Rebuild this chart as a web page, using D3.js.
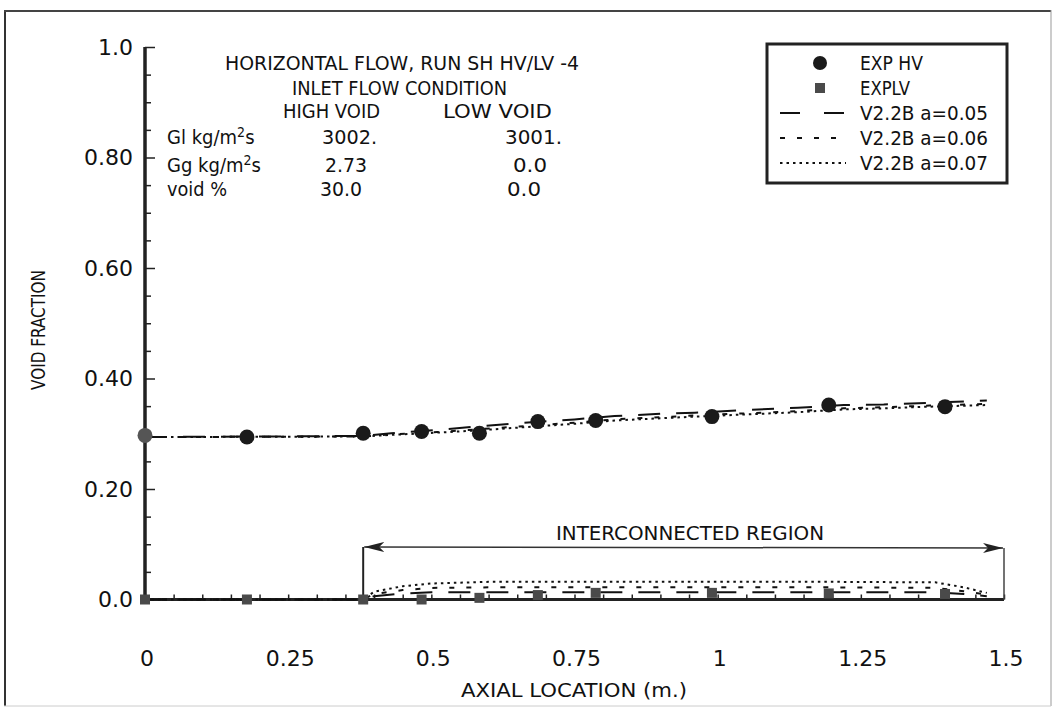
<!DOCTYPE html>
<html>
<head>
<meta charset="utf-8">
<script src="https://cdn.jsdelivr.net/npm/d3@7"></script>
<style>
  html, body { margin: 0; padding: 0; background: #fff; }
  svg { display: block; }
  .num { font-family: "DejaVu Sans", sans-serif; fill: #111; }
  .lbl { font-family: "DejaVu Sans Condensed", "DejaVu Sans", sans-serif; font-stretch: condensed; fill: #111; }
</style>
</head>
<body>
<svg id="chart" width="1055" height="719"></svg>
<script>
// Measured axial locations (m) and void fractions
const expX  = [0, 0.178, 0.381, 0.483, 0.584, 0.686, 0.787, 0.990, 1.194, 1.397];
const expHV = [0.297, 0.294, 0.301, 0.304, 0.301, 0.322, 0.324, 0.331, 0.352, 0.349];
const expLV = [0, 0, 0, 0, 0.003, 0.008, 0.012, 0.012, 0.011, 0.010];

// Code predictions (V2.2B) for the high-void channel
const hvX    = [0, 0.381, 0.43, 0.51, 0.58, 0.65, 0.75, 0.82, 0.90, 0.96, 1.05, 1.14, 1.22, 1.29, 1.37, 1.47];
const hvA005 = [0.294, 0.296, 0.301, 0.307, 0.313, 0.319, 0.326, 0.332, 0.336, 0.338, 0.343, 0.347, 0.352, 0.353, 0.356, 0.360];
const hvA006 = [0.294, 0.295, 0.299, 0.303, 0.308, 0.313, 0.320, 0.326, 0.330, 0.333, 0.337, 0.341, 0.346, 0.348, 0.351, 0.354];
const hvA007 = [0.294, 0.295, 0.298, 0.302, 0.306, 0.311, 0.318, 0.324, 0.328, 0.331, 0.335, 0.339, 0.344, 0.346, 0.349, 0.352];

// Code predictions (V2.2B) for the low-void channel
const lvX    = [0, 0.381, 0.40, 0.45, 0.50, 0.60, 0.80, 1.00, 1.20, 1.38, 1.43, 1.47];
const lvA005 = [0, 0, 0.006, 0.011, 0.013, 0.013, 0.013, 0.013, 0.013, 0.013, 0.010, 0.006];
const lvA006 = [0, 0, 0.010, 0.017, 0.021, 0.022, 0.022, 0.022, 0.022, 0.021, 0.015, 0.009];
const lvA007 = [0, 0, 0.014, 0.024, 0.029, 0.032, 0.032, 0.032, 0.032, 0.031, 0.022, 0.012];

// Axis ticks
const xTicks = [0, 0.25, 0.5, 0.75, 1, 1.25, 1.5];
const xTickLabels = ["0", "0.25", "0.5", "0.75", "1", "1.25", "1.5"];
const yTicks = [0, 0.2, 0.4, 0.6, 0.8, 1.0];
const yTickLabels = ["0.0", "0.20", "0.40", "0.60", "0.80", "1.0"];

// Interconnected region bounds (m)
const regionStart = 0.381, regionEnd = 1.5;

// Legend entries
const legendNames = ["EXP HV", "EXPLV", "V2.2B a=0.05", "V2.2B a=0.06", "V2.2B a=0.07"];

const svg = d3.select("#chart");
const x = d3.scaleLinear().domain([0, 1.5]).range([145, 1004]);
const y = d3.scaleLinear().domain([0, 1]).range([599.5, 47]);

// Page frame
svg.append("line").attr("x1", 5).attr("y1", 10).attr("x2", 5).attr("y2", 706).attr("stroke", "#333").attr("stroke-width", 2);
svg.append("line").attr("x1", 4).attr("y1", 11).attr("x2", 1051).attr("y2", 11).attr("stroke", "#444").attr("stroke-width", 2);
svg.append("line").attr("x1", 1051).attr("y1", 10).attr("x2", 1051).attr("y2", 706).attr("stroke", "#999").attr("stroke-width", 1);
svg.append("line").attr("x1", 4).attr("y1", 706).attr("x2", 1051).attr("y2", 706).attr("stroke", "#ccc").attr("stroke-width", 1);

// Y axis: minor ticks every 0.05 pointing into the plot
const yMinor = d3.range(0, 1.0001, 0.05);
const yAxis = svg.append("g").attr("transform", `translate(${x(0)},0)`)
  .call(d3.axisRight(y).tickValues(yMinor).tickSize(6).tickFormat(""));
yAxis.select(".domain").remove();
yAxis.selectAll(".tick line").attr("stroke", "#222").attr("stroke-width", 1.5)
  .attr("x2", d => (Math.abs(d * 5 - Math.round(d * 5)) < 1e-6 ? 10 : 6));
svg.append("line").attr("x1", x(0)).attr("x2", x(0)).attr("y1", y(1)).attr("y2", y(0))
  .attr("stroke", "#222").attr("stroke-width", 3.5);

svg.append("g").selectAll("text").data(yTicks).join("text")
  .attr("class", "num")
  .attr("x", 133).attr("y", d => y(d)).attr("dy", "0.36em")
  .attr("text-anchor", "end").attr("font-size", 22)
  .text((d, i) => yTickLabels[i]);

// X axis: minor ticks every 0.05 pointing into the plot
const xMinor = d3.range(0, 1.5001, 0.05);
const xAxis = svg.append("g").attr("transform", `translate(0,${y(0)})`)
  .call(d3.axisTop(x).tickValues(xMinor).tickSize(5).tickFormat(""));
xAxis.select(".domain").remove();
xAxis.selectAll(".tick line").attr("stroke", "#222").attr("stroke-width", 1.5);
svg.append("line").attr("x1", x(0)).attr("x2", x(1.5)).attr("y1", y(0)).attr("y2", y(0))
  .attr("stroke", "#222").attr("stroke-width", 3);

svg.append("g").selectAll("text").data(xTicks).join("text")
  .attr("class", "num")
  .attr("x", d => x(d) + 2).attr("y", 666)
  .attr("text-anchor", "middle").attr("font-size", 22)
  .text((d, i) => xTickLabels[i]);

// Axis titles
svg.append("text").attr("class", "lbl")
  .attr("transform", "translate(45,330) rotate(-90)")
  .attr("text-anchor", "middle").attr("font-size", 19)
  .attr("textLength", 120).attr("lengthAdjust", "spacingAndGlyphs")
  .text("VOID FRACTION");
svg.append("text").attr("class", "lbl")
  .attr("x", 574).attr("y", 697).attr("text-anchor", "middle").attr("font-size", 19)
  .attr("textLength", 226).attr("lengthAdjust", "spacingAndGlyphs")
  .text("AXIAL LOCATION (m.)");

// Inlet condition annotation
const note = svg.append("g").attr("class", "lbl");
function noteText(tx, ty, str, len, anchor) {
  return note.append("text").attr("x", tx).attr("y", ty).attr("font-size", 20)
    .attr("text-anchor", anchor || "start")
    .attr("textLength", len).attr("lengthAdjust", "spacingAndGlyphs").text(str);
}
noteText(225, 70, "HORIZONTAL FLOW, RUN SH HV/LV -4", 354);
noteText(292, 95, "INLET FLOW CONDITION", 215);
noteText(283, 118, "HIGH VOID", 97);
noteText(443, 118, "LOW VOID", 109);
function unitText(tx, ty, prefix) {
  const t = note.append("text").attr("x", tx).attr("y", ty).attr("font-size", 20);
  t.append("tspan").text(prefix + " kg/m");
  t.append("tspan").attr("dy", -7).attr("font-size", 14).text("2");
  t.append("tspan").attr("dy", 7).text("s");
}
unitText(167, 144, "Gl");
unitText(167, 172, "Gg");
noteText(167, 196, "void %", 60);
noteText(322, 144, "3002.", 55);
noteText(505, 144, "3001.", 57);
noteText(325, 172, "2.73", 42);
noteText(513, 172, "0.0", 34);
noteText(320, 196, "30.0", 42);
noteText(507, 196, "0.0", 34);

// Model curves
const styles = [
  { dash: "22,16", w: 2 },
  { dash: "5,12", w: 2 },
  { dash: "2.5,4", w: 2 }
];
function drawCurve(xs, vs, st) {
  const line = d3.line().x((d, i) => x(xs[i])).y(d => y(d));
  svg.append("path").datum(vs).attr("d", line)
    .attr("fill", "none").attr("stroke", "#111")
    .attr("stroke-width", st.w).attr("stroke-dasharray", st.dash);
}
[hvA005, hvA006, hvA007].forEach((vs, i) => drawCurve(hvX, vs, styles[i]));
[lvA005, lvA006, lvA007].forEach((vs, i) => drawCurve(lvX, vs, styles[i]));

// Interconnected region bracket
const yBr = 547;
svg.append("defs").html(
  '<marker id="arr" viewBox="0 0 20 10" refX="20" refY="5" markerWidth="20" markerHeight="10" markerUnits="userSpaceOnUse" orient="auto-start-reverse">' +
  '<path d="M0,0 L20,5 L0,10 L5,5 Z" fill="#222"/></marker>');
svg.append("line").attr("x1", x(regionStart)).attr("x2", x(regionStart)).attr("y1", y(0)).attr("y2", yBr)
  .attr("stroke", "#222").attr("stroke-width", 2);
svg.append("line").attr("x1", x(regionEnd)).attr("x2", x(regionEnd)).attr("y1", y(0)).attr("y2", yBr + 1)
  .attr("stroke", "#444").attr("stroke-width", 1.5);
svg.append("line").attr("x1", x(regionStart) + 1).attr("x2", x(regionEnd) - 1).attr("y1", yBr).attr("y2", yBr + 1)
  .attr("stroke", "#333").attr("stroke-width", 1.5)
  .attr("marker-start", "url(#arr)").attr("marker-end", "url(#arr)");
svg.append("text").attr("class", "lbl").attr("x", 690).attr("y", 540)
  .attr("text-anchor", "middle").attr("font-size", 20)
  .attr("textLength", 268).attr("lengthAdjust", "spacingAndGlyphs")
  .text("INTERCONNECTED REGION");

// Experimental points
svg.append("g").selectAll("rect").data(expLV).join("rect")
  .attr("x", (d, i) => x(expX[i]) - 5).attr("y", d => y(d) - 5)
  .attr("width", 10).attr("height", 10).attr("fill", "#4a4a4a");
svg.append("g").selectAll("circle").data(expHV).join("circle")
  .attr("cx", (d, i) => x(expX[i])).attr("cy", d => y(d))
  .attr("r", 7.5).attr("fill", (d, i) => i === 0 ? "#555" : "#1a1a1a");

// Legend
const lg = svg.append("g");
lg.append("rect").attr("x", 767).attr("y", 44).attr("width", 240).attr("height", 139)
  .attr("fill", "#fff").attr("stroke", "#222").attr("stroke-width", 3);
const rowY = [63, 88, 113, 138, 163];
lg.append("circle").attr("cx", 820).attr("cy", rowY[0]).attr("r", 7).attr("fill", "#1a1a1a");
lg.append("rect").attr("x", 815).attr("y", rowY[1] - 5).attr("width", 10).attr("height", 10).attr("fill", "#4a4a4a");
styles.forEach((st, i) => {
  lg.append("line").attr("x1", 780).attr("x2", 846).attr("y1", rowY[i + 2]).attr("y2", rowY[i + 2])
    .attr("stroke", "#111").attr("stroke-width", st.w).attr("stroke-dasharray", i === 0 ? "20,24" : st.dash);
});
lg.selectAll("text.leg").data(legendNames).join("text")
  .attr("class", "lbl leg")
  .attr("x", 860).attr("y", (d, i) => rowY[i] + 7).attr("font-size", 19)
  .attr("textLength", (d, i) => [63, 50, 128, 128, 128][i]).attr("lengthAdjust", "spacingAndGlyphs")
  .text(d => d);
</script>
</body>
</html>
